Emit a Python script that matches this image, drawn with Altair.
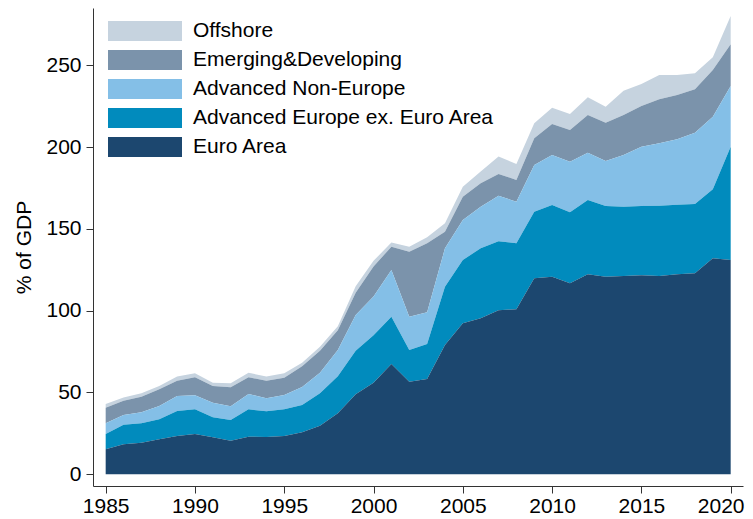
import altair as alt
import pandas as pd

years = list(range(1985, 2021))

euro_area = [15.3, 18.3, 19.3, 21.4, 23.4, 24.6, 22.6, 20.5, 23.0, 22.8,
             23.4, 25.7, 29.7, 37.3, 49.0, 56.0, 67.4, 56.6, 58.3, 79.0,
             92.3, 95.4, 100.3, 100.9, 119.8, 120.8, 116.7, 122.2, 120.8, 121.2,
             121.6, 121.2, 122.2, 122.9, 132.0, 131.0]
adv_europe_ex_ea = [9.3, 12.0, 11.9, 12.2, 15.3, 15.1, 12.2, 12.7, 16.7, 15.7,
                    16.3, 16.7, 19.8, 22.7, 26.5, 29.0, 28.9, 19.4, 21.3, 35.7,
                    38.7, 42.7, 42.2, 40.3, 40.7, 43.8, 43.4, 45.5, 43.2, 42.4,
                    42.4, 43.0, 42.6, 42.3, 42.2, 69.2]
adv_non_europe = [6.6, 5.9, 6.8, 8.1, 9.2, 8.6, 9.0, 8.4, 9.4, 8.0,
                  8.8, 11.0, 12.5, 16.0, 21.9, 23.6, 28.6, 20.3, 19.4, 23.4,
                  24.4, 25.5, 27.7, 25.4, 28.5, 30.6, 31.0, 28.9, 27.5, 31.6,
                  36.2, 38.1, 40.0, 43.6, 44.4, 37.1]
emerging_developing = [9.5, 8.8, 9.4, 10.3, 9.3, 11.0, 10.2, 11.6, 10.2, 10.7,
                       10.5, 12.6, 13.5, 12.0, 13.6, 18.4, 14.2, 39.7, 42.2, 10.2,
                       14.3, 14.3, 13.4, 13.3, 16.4, 18.9, 19.4, 23.0, 23.4, 24.4,
                       24.9, 26.9, 27.0, 26.5, 28.5, 25.5]
offshore = [2.3, 2.0, 2.1, 2.0, 2.5, 2.4, 2.0, 2.4, 2.8, 2.5,
            2.8, 2.2, 2.5, 2.5, 4.0, 3.5, 2.5, 3.1, 3.7, 5.1,
            6.1, 7.1, 10.6, 9.8, 9.1, 10.0, 9.7, 10.8, 9.8, 14.9,
            13.5, 14.9, 12.3, 9.8, 7.8, 17.3]

series_names = ["Offshore", "Emerging&Developing", "Advanced Non-Europe",
                "Advanced Europe ex. Euro Area", "Euro Area"]
series_values = [offshore, emerging_developing, adv_non_europe,
                 adv_europe_ex_ea, euro_area]
series_colors = ["#c6d3df", "#7b93ab", "#84bfe7", "#018bbd", "#1c476f"]

x_ticks = [1985, 1990, 1995, 2000, 2005, 2010, 2015, 2020]
y_ticks = [0, 50, 100, 150, 200, 250]

rows = []
n = len(series_names)
for i, (name, vals) in enumerate(zip(series_names, series_values)):
    for yr, v in zip(years, vals):
        rows.append({"year": yr, "series": name, "value": v, "stack_order": n - 1 - i})
df = pd.DataFrame(rows)

FONT = "Liberation Sans"

last_label_shift = {"condition": {"test": "datum.value == 2020", "value": -10}, "value": 0}

chart = alt.Chart(df).mark_area(interpolate="linear").encode(
    x=alt.X(
        "year:Q",
        scale=alt.Scale(domain=[1984.29, 2020.69], nice=False, zero=False),
        axis=alt.Axis(values=x_ticks, format="d", title=None, grid=False,
                      domainColor="#333333", tickColor="#333333", tickSize=7,
                      labelFont=FONT, labelFontSize=21, labelColor="#000000",
                      labelPadding=2, labelFlush=False,
                      labelOffset=last_label_shift),
    ),
    y=alt.Y(
        "value:Q",
        stack="zero",
        scale=alt.Scale(domain=[-7.15, 285], nice=False, zero=False),
        axis=alt.Axis(values=y_ticks, title="% of GDP", grid=False,
                      domainColor="#333333", tickColor="#333333", tickSize=7,
                      labelFont=FONT, labelFontSize=21, labelColor="#000000",
                      labelPadding=5, labelFlush=False,
                      titleFont=FONT, titleFontSize=21, titleFontWeight="normal",
                      titleColor="#000000", titlePadding=11),
    ),
    color=alt.Color(
        "series:N",
        scale=alt.Scale(domain=series_names, range=series_colors),
        legend=alt.Legend(
            title=None, orient="none", legendX=15, legendY=13,
            symbolType="M-1,-0.27L1,-0.27L1,0.27L-1,0.27Z",
            symbolSize=5476, symbolStrokeWidth=0, symbolOpacity=1,
            labelFont=FONT, labelFontSize=21, labelColor="#000000",
            labelOffset=11, labelLimit=600, clipHeight=20, rowPadding=8,
            padding=0,
        ),
    ),
    order=alt.Order("stack_order:Q", sort="ascending"),
).properties(
    width=650,
    height=478,
    autosize=alt.AutoSizeParams(type="none"),
    padding={"left": 85, "top": 0, "right": 2, "bottom": 30},
).configure_view(stroke=None)

chart.save("out.html", embed_options={"renderer": "svg", "actions": False})
